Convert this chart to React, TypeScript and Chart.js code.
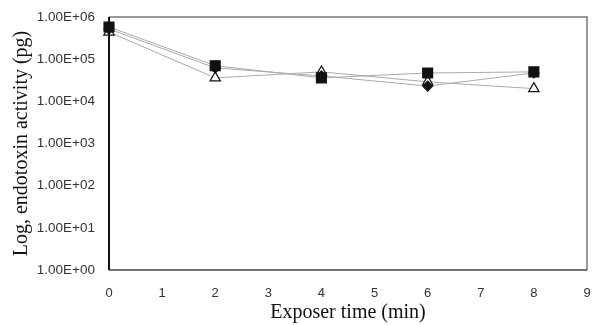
import React, { useEffect, useRef } from "react";
import { Chart, registerables } from "chart.js";

Chart.register(...registerables);

const times = [0, 2, 4, 6, 8];
const squareSeries = [580000, 70000, 36000, 47000, 50000];
const diamondSeries = [520000, 62000, 40000, 23000, 47000];
const triangleSeries = [440000, 36000, 50000, 29000, 20000];
const yTickValues = [1, 10, 100, 1000, 10000, 100000, 1000000];
const xTickValues = [0, 1, 2, 3, 4, 5, 6, 7, 8, 9];

const fmt = (v: number) => {
  const e = Math.round(Math.log10(v));
  return "1.00E+" + (e < 10 ? "0" + e : String(e));
};

const boxPlugin = {
  id: "box",
  afterDraw(chart: any) {
    const { ctx, chartArea: a } = chart;
    ctx.save();
    ctx.lineWidth = 1.5;
    ctx.strokeStyle = "#777";
    ctx.beginPath();
    ctx.moveTo(a.left, a.top);
    ctx.lineTo(a.right, a.top);
    ctx.lineTo(a.right, a.bottom);
    ctx.stroke();
    ctx.strokeStyle = "#444";
    ctx.beginPath();
    ctx.moveTo(a.left, a.bottom);
    ctx.lineTo(a.right, a.bottom);
    ctx.stroke();
    ctx.strokeStyle = "#111";
    ctx.lineWidth = 2;
    ctx.beginPath();
    ctx.moveTo(a.left, a.top);
    ctx.lineTo(a.left, a.bottom);
    ctx.stroke();
    ctx.restore();
  },
};

export default function App() {
  const ref = useRef<HTMLCanvasElement>(null);
  useEffect(() => {
    document.body.style.margin = "0";
    const mk = (data: number[], style: string, fill: string, r: number) => ({
      data: times.map((t, i) => ({ x: t, y: data[i] })),
      borderColor: "#aaa",
      borderWidth: 1,
      pointStyle: style,
      pointRadius: r,
      pointBackgroundColor: fill,
      pointBorderColor: "#111",
      pointBorderWidth: 1.2,
      clip: false as any,
      tension: 0,
    });
    const chart = new Chart(ref.current!, {
      type: "line",
      data: {
        datasets: [
          mk(squareSeries, "rect", "#111", 7),
          mk(diamondSeries, "rectRot", "#111", 5),
          mk(triangleSeries, "triangle", "#fff", 6),
        ] as any,
      },
      options: {
        animation: false,
        responsive: false,
        layout: { padding: { top: 17, right: 15, left: 0, bottom: 0 } },
        plugins: { legend: { display: false }, tooltip: { enabled: false } },
        scales: {
          x: {
            type: "linear",
            min: 0,
            max: 9,
            afterBuildTicks: (s: any) => {
              s.ticks = xTickValues.map((v) => ({ value: v }));
            },
            afterFit: (s: any) => {
              s.height = 55;
              s.paddingLeft = 0;
              s.paddingRight = 0;
            },
            grid: { display: false, drawTicks: false },
            border: { display: false },
            ticks: {
              color: "#333",
              font: { family: "Liberation Sans", size: 13 },
              padding: 16,
            },
            title: {
              display: true,
              text: "Exposer time (min)",
              color: "#111",
              font: { family: "Liberation Serif", size: 20 },
              padding: { top: 0, bottom: 0 },
            },
          },
          y: {
            type: "logarithmic",
            min: 1,
            max: 1000000,
            afterBuildTicks: (s: any) => {
              s.ticks = yTickValues.map((v) => ({ value: v }));
            },
            afterFit: (s: any) => {
              s.width = 109;
              s.paddingTop = 0;
              s.paddingBottom = 0;
            },
            grid: { display: false, drawTicks: false },
            border: { display: false },
            ticks: {
              color: "#333",
              font: { family: "Liberation Sans", size: 13.5 },
              padding: 14,
              callback: (v: any) => fmt(Number(v)),
            },
            title: {
              display: true,
              text: "Log, endotoxin activity (pg)",
              color: "#111",
              font: { family: "Liberation Serif", size: 20 },
              padding: { top: 10, bottom: 0 },
            },
          },
        },
      },
      plugins: [boxPlugin],
    });
    return () => chart.destroy();
  }, []);
  return (
    <div style={{ width: 602, height: 325, background: "#fff" }}>
      <canvas ref={ref} width={602} height={325} />
    </div>
  );
}
